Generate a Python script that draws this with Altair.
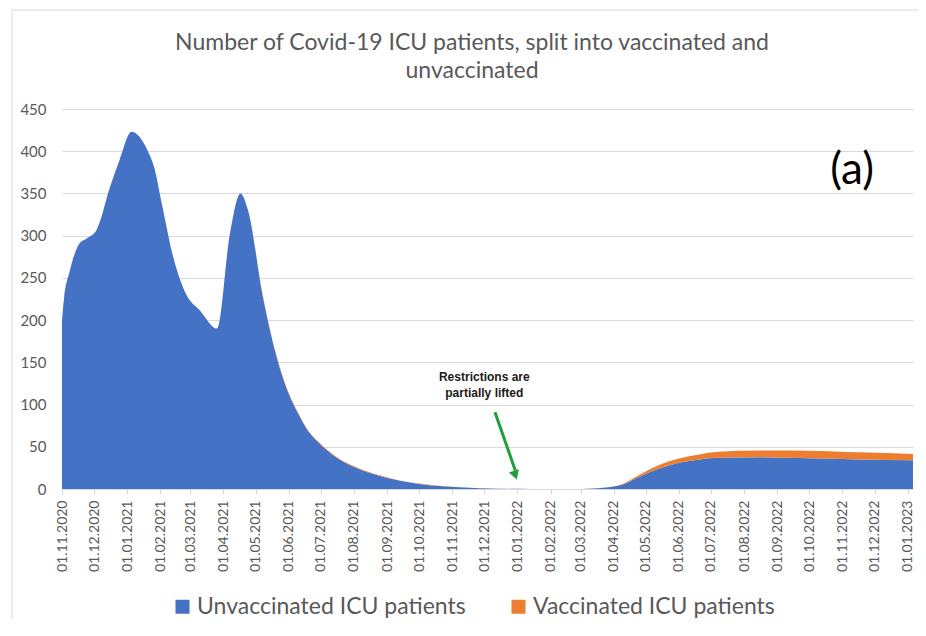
import altair as alt
import pandas as pd

# ---------------- data ----------------
dates = [
    "2020-11-01", "2020-11-03", "2020-11-08", "2020-11-13", "2020-11-17", "2020-11-24",
    "2020-12-03", "2020-12-06", "2020-12-15", "2020-12-25", "2021-01-05", "2021-01-20",
    "2021-01-26", "2021-02-03", "2021-02-13", "2021-02-25", "2021-03-10", "2021-03-26",
    "2021-04-07", "2021-04-17", "2021-04-24", "2021-05-08", "2021-05-20", "2021-06-01",
    "2021-06-10", "2021-06-19", "2021-06-29", "2021-07-17", "2021-08-05", "2021-08-24",
    "2021-09-12", "2021-10-01", "2021-10-20", "2021-11-08", "2021-11-27", "2021-12-16",
    "2022-01-15", "2022-02-15", "2022-03-17", "2022-04-06", "2022-04-24", "2022-05-13",
    "2022-06-01", "2022-06-20", "2022-07-08", "2022-08-15", "2022-10-01", "2022-11-17",
    "2023-01-06",
]
unvaccinated = [
    200, 227, 257, 279, 290, 296.5,
    306, 315, 354, 390, 423, 401,
    382, 334, 275, 231, 211.5, 190,
    302, 350, 330, 227, 160, 113,
    89, 69, 55, 36, 24, 16,
    10, 6, 3.5, 2, 1, 0.3,
    0, 0, 1, 4, 14, 24,
    31, 35, 37, 37.6, 36.4, 35,
    34,
]
vaccinated = [
    0, 0, 0, 0, 0, 0,
    0, 0, 0, 0, 0, 0,
    0, 0, 0, 0, 0, 0,
    0, 0, 0.5, 1, 1, 1,
    1, 1, 1, 1, 0.8, 0.6,
    0.5, 0.4, 0.3, 0.2, 0.1, 0,
    0, 0, 0, 0.5, 2, 4,
    5, 6, 7, 8, 9, 8.5,
    7.5,
]
series_names = ["Unvaccinated ICU patients", "Vaccinated ICU patients"]
series_colors = ["#4472C4", "#ED7D31"]

tick_months = [
    (2020, 11), (2020, 12), (2021, 1), (2021, 2), (2021, 3), (2021, 4), (2021, 5),
    (2021, 6), (2021, 7), (2021, 8), (2021, 9), (2021, 10), (2021, 11), (2021, 12),
    (2022, 1), (2022, 2), (2022, 3), (2022, 4), (2022, 5), (2022, 6), (2022, 7),
    (2022, 8), (2022, 9), (2022, 10), (2022, 11), (2022, 12), (2023, 1),
]
y_ticks = [0, 50, 100, 150, 200, 250, 300, 350, 400, 450]

title_lines = ["Number of Covid-19 ICU patients, split into vaccinated and", "unvaccinated"]
note_text = ["Restrictions are", "partially lifted"]
note_pos = ("2021-12-01", 133)
arrow_from = ("2021-12-11", 91)
arrow_to = ("2021-12-30", 22)
arrow_head = ("2021-12-30", 16.4)
panel_label = ["(a)"]

# ---------------- tables ----------------
rows = []
for d, u, v in zip(dates, unvaccinated, vaccinated):
    rows.append({"date": d + "T00:00:00", "series": series_names[0], "value": u, "ord": 0})
    rows.append({"date": d + "T00:00:00", "series": series_names[1], "value": v, "ord": 1})
df = pd.DataFrame(rows)

FONT = "Lato"
GREY = "#595959"
GRID = "#d9d9d9"

x_scale = alt.Scale(domain=[alt.DateTime(year=2020, month=11, date=1),
                            alt.DateTime(year=2023, month=1, date=6)])
x_axis = alt.Axis(
    values=[alt.DateTime(year=y, month=m, date=1) for y, m in tick_months],
    format="%d.%m.%Y",
    labelAngle=270,
    labelFontSize=14,
    labelColor=GREY,
    labelFont=FONT,
    labelPadding=6,
    tickSize=5,
    tickColor=GRID,
    domainColor=GRID,
    grid=False,
    labelOverlap=False,
    labelSeparation=0,
    labelBound=False,
    labelFlush=False,
)
y_axis = alt.Axis(
    values=y_ticks,
    labelFontSize=15,
    labelColor=GREY,
    labelFont=FONT,
    labelPadding=16,
    tickSize=0,
    domain=False,
    grid=True,
    gridColor=GRID,
)
y_scale = alt.Scale(domain=[0, 450], nice=False)


def xenc(field):
    return alt.X(field, type="temporal", scale=x_scale, axis=x_axis, title=None)


def yenc(field):
    return alt.Y(field, type="quantitative", scale=y_scale, axis=y_axis, title=None)


area = alt.Chart(df).mark_area(interpolate="monotone").encode(
    x=xenc("date"),
    y=alt.Y("value:Q", stack="zero", scale=y_scale, axis=y_axis, title=None),
    color=alt.Color(
        "series:N",
        scale=alt.Scale(domain=series_names, range=series_colors),
        legend=alt.Legend(
            title=None,
            orient="none",
            legendX=109,
            legendY=486,
            direction="horizontal",
            symbolType="square",
            symbolSize=196,
            symbolStrokeWidth=0,
            labelFontSize=23,
            labelFont=FONT,
            labelColor=GREY,
            labelOffset=3,
            labelLimit=500,
            columnPadding=41,
        ),
    ),
    order=alt.Order("ord:Q"),
)

arrow_df = pd.DataFrame({
    "x": [arrow_from[0] + "T00:00:00"], "y": [arrow_from[1]],
    "x2": [arrow_to[0] + "T00:00:00"], "y2": [arrow_to[1]],
})
arrow = alt.Chart(arrow_df).mark_rule(color="#1f9e3a", strokeWidth=3).encode(
    x=xenc("x"), y=yenc("y"), x2="x2:T", y2="y2:Q"
)
head_df = pd.DataFrame({"x": [arrow_head[0] + "T00:00:00"], "y": [arrow_head[1]]})
head = alt.Chart(head_df).mark_point(
    shape="triangle-down", filled=True, size=110, angle=341, color="#1f9e3a", opacity=1
).encode(x=xenc("x"), y=yenc("y"))

note_df = pd.DataFrame({"x": [note_pos[0] + "T00:00:00"], "y": [note_pos[1]], "t": ["\n".join(note_text)]})
note = alt.Chart(note_df).mark_text(
    font="Liberation Sans", fontWeight="bold", fontSize=12, color="#1a1a1a",
    lineBreak="\n", lineHeight=16, align="center", baseline="middle"
).encode(x=xenc("x"), y=yenc("y"), text="t:N")

lab_df = pd.DataFrame({"t": panel_label})
lab = alt.Chart(lab_df).mark_text(
    font=FONT, fontSize=44, color="#000000", align="center", baseline="middle"
).encode(x=alt.value(790), y=alt.value(62), text="t:N")

title_df = pd.DataFrame({"t": ["\n".join(title_lines)]})
title = alt.Chart(title_df).mark_text(
    font=FONT, fontSize=23, color=GREY, align="center", baseline="middle",
    lineBreak="\n", lineHeight=28
).encode(x=alt.value(410), y=alt.value(-66), text="t:N")

# light frame around the figure (only top and left edges are inside the picture)
top_edge = alt.Chart(lab_df).mark_rule(color=GRID, strokeWidth=1).encode(
    x=alt.value(-50), x2=alt.value(900), y=alt.value(-99)
)
left_edge = alt.Chart(lab_df).mark_rule(color=GRID, strokeWidth=1).encode(
    x=alt.value(-50), y=alt.value(-99), y2=alt.value(600)
)

chart = alt.layer(top_edge, left_edge, area, arrow, head, note, lab, title).properties(
    width=851,
    height=380,
    autosize="none",
    padding={"left": 54, "top": 101, "right": 5, "bottom": 130},
).configure_view(stroke=None).configure_axis(labelOverlap=False)

chart.save("out.html", embed_options={"renderer": "svg", "actions": False})
